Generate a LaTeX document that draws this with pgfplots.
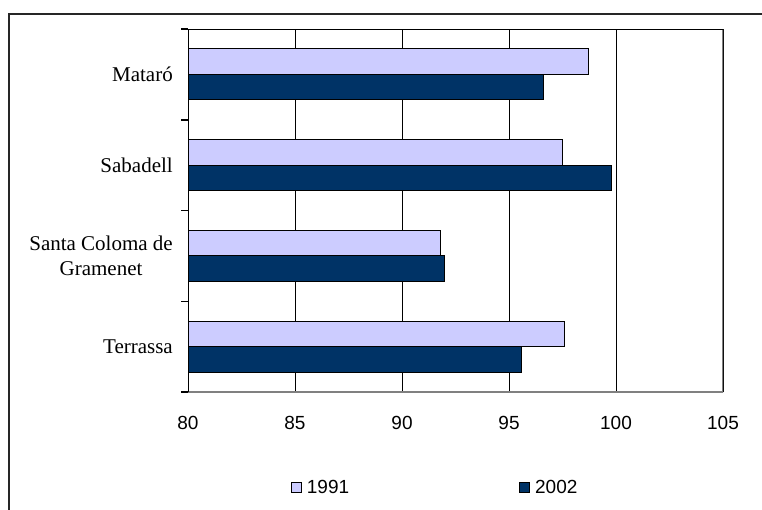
\documentclass[border=0pt]{standalone}
\usepackage{fontspec}
\setmainfont{Liberation Sans}
\newfontfamily\seriff{Liberation Serif}
\usepackage{pgfplots}
\pgfplotsset{compat=1.18}
\definecolor{lav}{HTML}{CCCCFF}
\definecolor{navy}{HTML}{003366}

\begin{document}
\begin{tikzpicture}
\useasboundingbox (0,0) rectangle (762pt,-509pt);
% outer chart frame (runs off the right and bottom edge)
\draw[line width=1.8pt, black!85] (9pt,-540pt) -- (9pt,-14pt) -- (800pt,-14pt);
\begin{axis}[
  at={(188pt,-392pt)}, anchor=south west,
  scale only axis, width=535pt, height=363pt,
  xbar, bar width=25.6pt,
  xmin=80, xmax=105, ymin=0.5, ymax=4.5,
  xtick={80,85,...,105},
  xtick style={draw=none},
  xmajorgrids=true,
  grid style={black, line width=1pt},
  xticklabel style={font=\fontsize{19}{22}\selectfont,
    /pgf/number format/assume math mode=true, yshift=-14pt},
  ytick={0.5,1.5,2.5,3.5,4.5},
  ytick pos=left,
  yticklabel=\empty,
  tick align=outside,
  major tick length=7pt,
  ytick style={black, line width=1.5pt},
  extra y ticks={1,2,3,4},
  extra y tick labels={Terrassa,{Santa Coloma de\\Gramenet},Sabadell,Mataró},
  extra y tick style={major tick length=0pt, tick style={draw=none},
    tick label style={font=\seriff\fontsize{21}{25}\selectfont,
      align=center, inner sep=0pt, xshift=-15pt}},
  axis line style={draw=none},
  legend columns=2,
  legend style={draw=none, at={(0.462,-0.264)}, anchor=center,
    font=\fontsize{19}{22}\selectfont,
    /tikz/every odd column/.append style={column sep=3pt},
    /tikz/every even column/.append style={column sep=168pt}},
  legend image code/.code={\draw[#1, line width=1pt] (0pt,-5pt) rectangle (10pt,5pt);},
]
\addplot[fill=lav, draw=black, line width=1pt, bar shift=12.8pt]
  coordinates {(97.6,1) (91.8,2) (97.5,3) (98.7,4)};
\addplot[fill=navy, draw=black, line width=1pt, bar shift=-12.8pt]
  coordinates {(95.6,1) (92.0,2) (99.8,3) (96.6,4)};
\legend{1991,2002}
\draw[gray, line width=1.8pt] (rel axis cs:0,0) -- (rel axis cs:1,0) -- (rel axis cs:1,1);
\draw[black, line width=1.8pt] (rel axis cs:1,1) -- (rel axis cs:0,1) -- (rel axis cs:0,0);
\end{axis}
\end{tikzpicture}
\end{document}
